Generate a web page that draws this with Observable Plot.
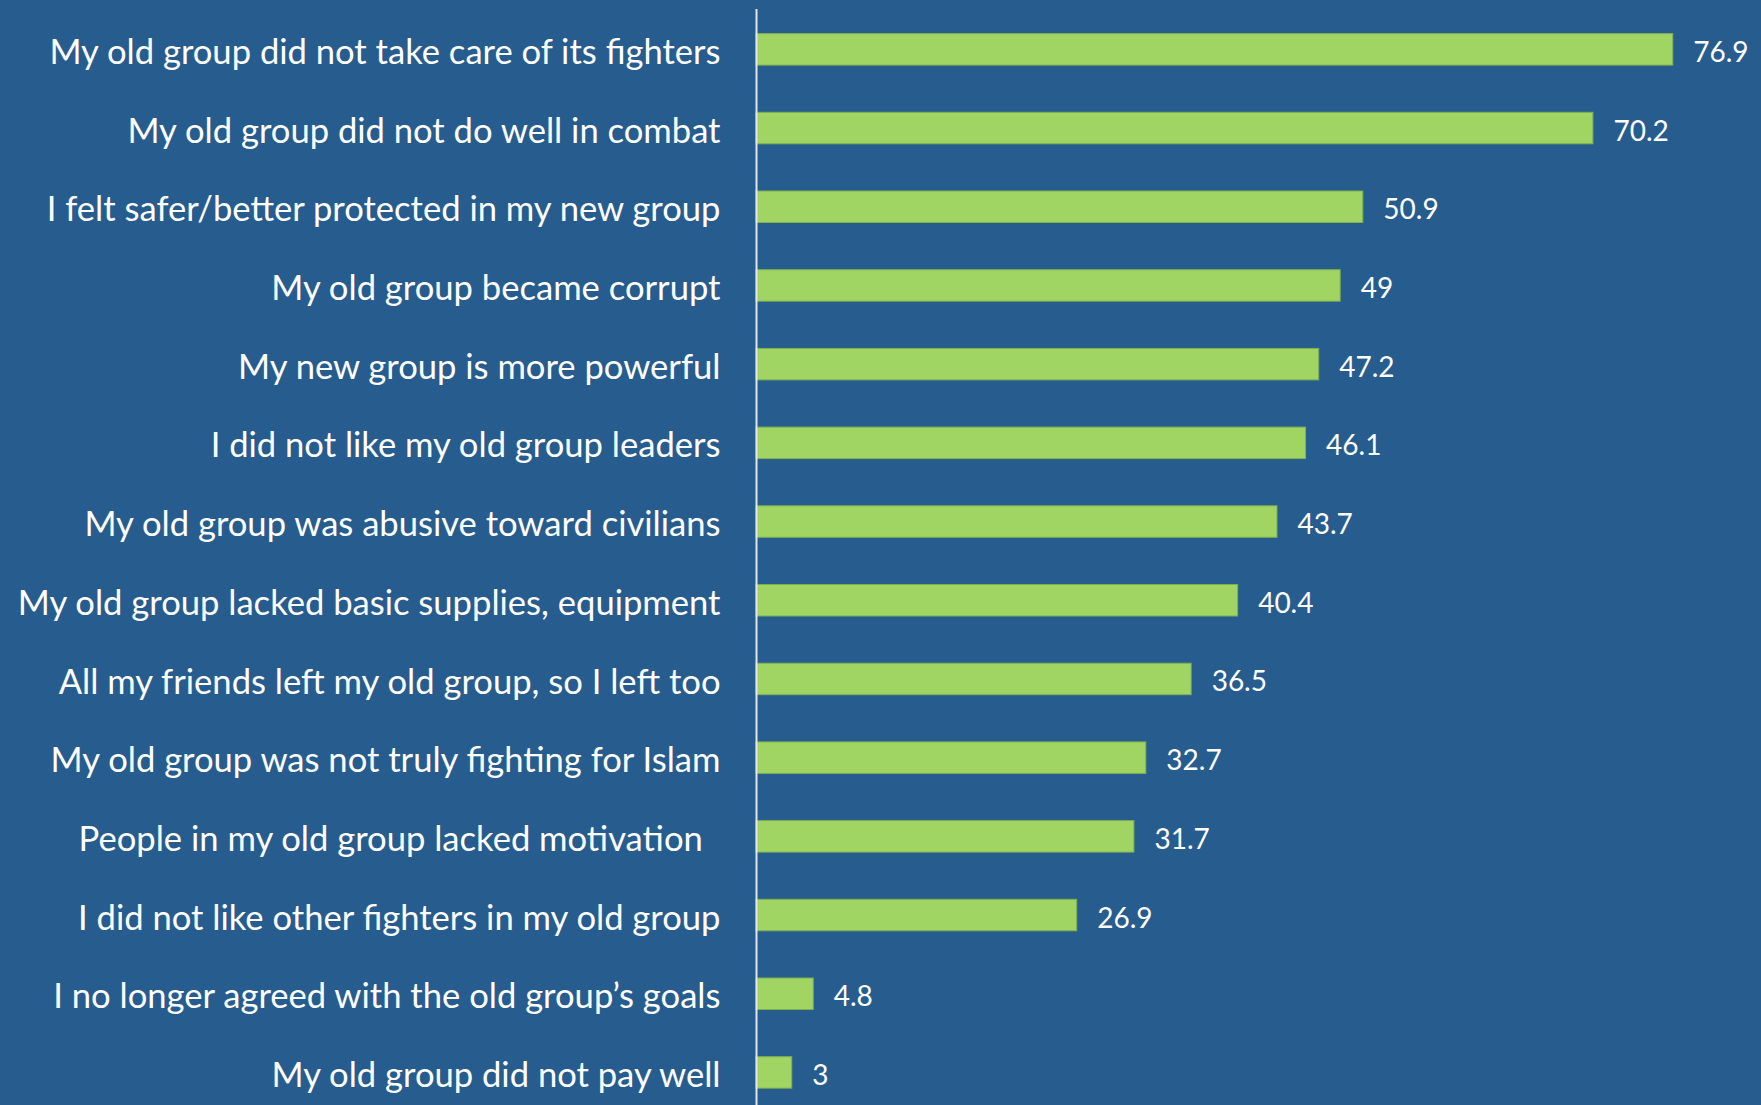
<!DOCTYPE html>
<html>
<head>
<meta charset="utf-8">
<script src="https://cdn.jsdelivr.net/npm/d3@7"></script>
<script src="https://cdn.jsdelivr.net/npm/@observablehq/plot@0.6"></script>
<style>
  html, body { margin: 0; padding: 0; background: #275C8F; overflow: hidden; }
</style>
</head>
<body>
<div id="chart"></div>
<script>
const reasons = [
  "My old group did not take care of its fighters",
  "My old group did not do well in combat",
  "I felt safer/better protected in my new group",
  "My old group became corrupt",
  "My new group is more powerful",
  "I did not like my old group leaders",
  "My old group was abusive toward civilians",
  "My old group lacked basic supplies, equipment",
  "All my friends left my old group, so I left too",
  "My old group was not truly fighting for Islam",
  "People in my old group lacked motivation\u00a0\u00a0",
  "I did not like other fighters in my old group",
  "I no longer agreed with the old group\u2019s goals",
  "My old group did not pay well"
];
const percents = [76.9, 70.2, 50.9, 49, 47.2, 46.1, 43.7, 40.4, 36.5, 32.7, 31.7, 26.9, 4.8, 3];
const valueLabels = ["76.9", "70.2", "50.9", "49", "47.2", "46.1", "43.7", "40.4", "36.5", "32.7", "31.7", "26.9", "4.8", "3"];

const data = reasons.map((r, i) => ({reason: r, value: percents[i], label: valueLabels[i]}));

const W = 1761, H = 1105;
const font = "Lato, 'Open Sans', sans-serif";

const chart = Plot.plot({
  width: W,
  height: H,
  marginLeft: 756,
  marginRight: 0,
  marginTop: 9,
  marginBottom: 0,
  style: {background: "#275C8F", fontFamily: font, color: "white", overflow: "visible"},
  x: {domain: [0, 84.3], range: [756, 1761], axis: null},
  y: {domain: reasons, range: [10, 1111.8], paddingInner: 0.6, paddingOuter: 0.3, round: false, label: null},
  marks: [
    Plot.barX(data, {x: "value", y: "reason", fill: "#A1D563", stroke: "#7FAF4E", strokeWidth: 1}),
    Plot.ruleX([0], {stroke: "#E0E6EE", strokeWidth: 2}),
    Plot.text(data, {x: "value", y: "reason", text: "label", dx: 20, dy: 3, textAnchor: "start", fill: "white", fontSize: 28, fontFamily: font}),
    Plot.axisY({tickSize: 0, tickPadding: 36, dy: 3, fontSize: 34.6, fill: "white", fontFamily: font, label: null})
  ]
});
document.getElementById("chart").appendChild(chart);
</script>
</body>
</html>
